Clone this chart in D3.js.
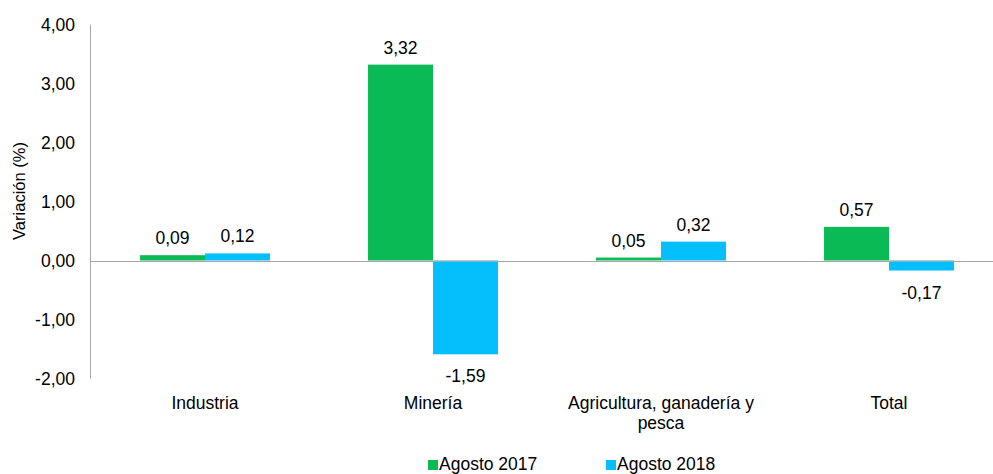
<!DOCTYPE html>
<meta charset="utf-8">
<script src="https://d3js.org/d3.v7.min.js"></script>
<style>
  body { margin: 0; background: #fff; }
  text { font-family: "Liberation Sans", Arial, sans-serif; fill: #000; }
</style>
<svg id="chart" width="993" height="474"></svg>
<script>

// Data
var categories = ["Industria", "Minería", "Agricultura, ganadería y pesca", "Total"];
var series = ["Agosto 2017", "Agosto 2018"];
var values2017 = [0.09, 3.32, 0.05, 0.57];
var values2018 = [0.12, -1.59, 0.32, -0.17];
var yTicks = [-2, -1, 0, 1, 2, 3, 4];
var colors = ["#0ABB55", "#05BEFC"];

var svg = d3.select("#chart");

var x0 = d3.scaleBand()
  .domain(categories)
  .range([91, 1003]);

var groupWidth = x0.bandwidth() * 0.57;
var x1 = d3.scaleBand()
  .domain(series)
  .range([0, groupWidth]);

var y = d3.scaleLinear()
  .domain([-2, 4])
  .range([378.5, 24.5]);

var fmt = function(v) { return d3.format(".2f")(v).replace(".", ",").replace("\u2212", "-"); };

// y axis line
svg.append("line")
  .attr("x1", 90.5).attr("x2", 90.5)
  .attr("y1", y(4)).attr("y2", y(-2))
  .attr("stroke", "#a6a6a6").attr("stroke-width", 1);

// tick labels
svg.append("g")
  .selectAll("text")
  .data(yTicks)
  .enter()
  .append("text")
    .attr("x", 75)
    .attr("y", function(d) { return y(d) + 6; })
    .attr("text-anchor", "end")
    .style("font-size", "17.5px")
    .text(function(d) { return fmt(d); });

// axis title
svg.append("text")
  .attr("transform", "translate(25,191) rotate(-90)")
  .attr("text-anchor", "middle")
  .style("font-size", "16.5px")
  .text("Variación (%)");

// bars
var rows = categories.map(function(c, i) {
  return { cat: c, vals: [values2017[i], values2018[i]] };
});

var groups = svg.append("g")
  .selectAll("g")
  .data(rows)
  .enter()
  .append("g")
    .attr("transform", function(d) {
      return "translate(" + (x0(d.cat) + (x0.bandwidth() - groupWidth) / 2) + ",0)";
    });

groups.selectAll("rect")
  .data(function(d) { return d.vals.map(function(v, j) { return { s: series[j], v: v, j: j }; }); })
  .enter()
  .append("rect")
    .attr("x", function(d) { return x1(d.s); })
    .attr("width", x1.bandwidth())
    .attr("y", function(d) { return y(Math.max(0, d.v)); })
    .attr("height", function(d) { return Math.abs(y(d.v) - y(0)); })
    .attr("fill", function(d) { return colors[d.j]; });

groups.selectAll("text.val")
  .data(function(d) { return d.vals.map(function(v, j) { return { s: series[j], v: v, j: j }; }); })
  .enter()
  .append("text")
    .attr("class", "val")
    .attr("x", function(d) { return x1(d.s) + x1.bandwidth() / 2; })
    .attr("y", function(d) { return d.v >= 0 ? y(d.v) - 11 : y(d.v) + 28; })
    .attr("text-anchor", "middle")
    .style("font-size", "17.5px")
    .text(function(d) { return fmt(d.v); });

// zero line
svg.append("line")
  .attr("x1", 90).attr("x2", 993)
  .attr("y1", Math.round(y(0)) + 0.5).attr("y2", Math.round(y(0)) + 0.5)
  .attr("stroke", "#a6a6a6").attr("stroke-width", 1);

// category labels
var catLines = [["Industria"], ["Minería"], ["Agricultura, ganadería y", "pesca"], ["Total"]];
svg.append("g")
  .selectAll("text")
  .data(categories)
  .enter()
  .append("text")
    .attr("y", 409)
    .attr("text-anchor", "middle")
    .style("font-size", "17.5px")
    .each(function(d, i) {
      var t = d3.select(this);
      catLines[i].forEach(function(line, k) {
        t.append("tspan")
          .attr("x", x0(d) + x0.bandwidth() / 2)
          .attr("dy", k === 0 ? 0 : 20)
          .text(line);
      });
    });

// legend
var legendX = [428, 606];
var legend = svg.append("g")
  .selectAll("g")
  .data(series)
  .enter()
  .append("g")
    .attr("transform", function(d, i) { return "translate(" + legendX[i] + ",460)"; });

legend.append("rect")
  .attr("width", 10).attr("height", 10)
  .attr("fill", function(d, i) { return colors[i]; });

legend.append("text")
  .attr("x", 11)
  .attr("y", 10)
  .style("font-size", "17.5px")
  .text(function(d) { return d; });

</script>
